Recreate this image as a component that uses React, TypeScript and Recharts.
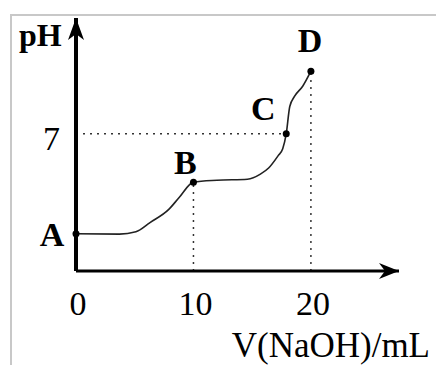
import { Line, LineChart, ReferenceDot, ReferenceLine, XAxis, YAxis } from "recharts";

// titration curve (x: mL NaOH, y: pH)
const volume = [0, 3.7, 5.1, 6.3, 7.9, 8.8, 10, 12, 14.6, 15.7, 16.4, 17.2, 17.6, 17.9, 18.2, 18.6, 19.3, 20];
const ph = [1.9, 1.88, 2.0, 2.47, 3.14, 3.76, 4.53, 4.63, 4.68, 4.94, 5.25, 5.87, 6.23, 7.0, 8.39, 8.9, 9.42, 10.19];

const pointNames = ["A", "B", "C", "D"];
const pointVolume = [0, 10, 17.9, 20];
const pointPh = [1.9, 4.53, 7.0, 10.19];

const xTicks = [0, 10, 20];
const yTicks = [7];

const data = volume.map((v, i) => ({ v, ph: ph[i] }));

const serif = "'Liberation Serif', 'DejaVu Serif', serif";

// label offsets relative to each key point
const labelOffset: Record<string, [number, number]> = {
  A: [-24, 12],
  B: [-8, -8],
  C: [-23, -14],
  D: [-1, -19],
};

function KeyPoint(props: any) {
  const { cx, cy, name } = props;
  const [dx, dy] = labelOffset[name];
  return (
    <g>
      <circle cx={cx} cy={cy} r={3.5} fill="#000" />
      <text x={cx + dx} y={cy + dy} textAnchor="middle" fontFamily={serif} fontWeight="bold" fontSize={34} fill="#000">
        {name}
      </text>
    </g>
  );
}

function XTick(props: any) {
  const { x, y, payload } = props;
  return (
    <text x={x + 2} y={y + 36} textAnchor="middle" fontFamily={serif} fontSize={34} fill="#000">
      {payload.value}
    </text>
  );
}

function YTick(props: any) {
  const { x, y, payload } = props;
  return (
    <text x={x - 8} y={y + 16} textAnchor="end" fontFamily={serif} fontSize={34} fill="#000">
      {payload.value}
    </text>
  );
}

function XArrow(props: any) {
  const { cx, cy } = props;
  return <polygon points={`${cx},${cy} ${cx - 20},${cy - 8} ${cx - 14},${cy} ${cx - 20},${cy + 8}`} fill="#000" />;
}

function YArrow(props: any) {
  const { cx, cy } = props;
  return <polygon points={`${cx},${cy} ${cx - 8},${cy + 22} ${cx},${cy + 16} ${cx + 8},${cy + 22}`} fill="#000" />;
}

export default function App() {
  return (
    <div style={{ position: "absolute", left: 0, top: 0, width: 436, height: 365, background: "#fff" }}>
      <div
        style={{
          position: "absolute",
          left: 10,
          top: 14,
          right: 0,
          bottom: 0,
          borderTop: "2px solid #c8c8c8",
          borderLeft: "2px solid #c8c8c8",
        }}
      />
      <div style={{ position: "absolute", left: 0, top: 0 }}>
        <LineChart width={436} height={365} data={data} margin={{ top: 18, right: 37, bottom: 0, left: 0 }}>
          <XAxis
            type="number"
            dataKey="v"
            domain={[0, 27.5]}
            ticks={xTicks}
            tick={<XTick />}
            tickLine={false}
            axisLine={{ stroke: "#000", strokeWidth: 3 }}
            height={94}
            label={{ value: "V(NaOH)/mL", position: "insideBottomRight", offset: 8, dx: 39, fontFamily: serif, fontSize: 35, fill: "#000" }}
          />
          <YAxis
            type="number"
            domain={[0, 12.9]}
            ticks={yTicks}
            tick={<YTick />}
            tickLine={false}
            axisLine={{ stroke: "#000", strokeWidth: 4 }}
            width={76}
            label={{ value: "pH", position: "insideTopLeft", dx: 14, dy: 0, fontFamily: serif, fontWeight: "bold", fontSize: 32, fill: "#000" }}
          />
          <ReferenceLine segment={[{ x: 0, y: 7 }, { x: pointVolume[2], y: 7 }]} stroke="#333" strokeWidth={1.5} strokeDasharray="2 5" />
          <ReferenceLine segment={[{ x: pointVolume[1], y: 0 }, { x: pointVolume[1], y: pointPh[1] }]} stroke="#333" strokeWidth={1.5} strokeDasharray="2 5" />
          <ReferenceLine segment={[{ x: pointVolume[3], y: 0 }, { x: pointVolume[3], y: pointPh[3] }]} stroke="#333" strokeWidth={1.5} strokeDasharray="2 5" />
          <Line type="monotone" dataKey="ph" stroke="#222" strokeWidth={1.6} dot={false} isAnimationActive={false} />
          {pointNames.map((name, i) => (
            <ReferenceDot
              key={name}
              x={pointVolume[i]}
              y={pointPh[i]}
              ifOverflow="visible"
              shape={(p: any) => <KeyPoint {...p} name={name} />}
            />
          ))}
          <ReferenceDot x={27.5} y={0} ifOverflow="visible" shape={(p: any) => <XArrow {...p} />} />
          <ReferenceDot x={0} y={12.9} ifOverflow="visible" shape={(p: any) => <YArrow {...p} />} />
        </LineChart>
      </div>
    </div>
  );
}
